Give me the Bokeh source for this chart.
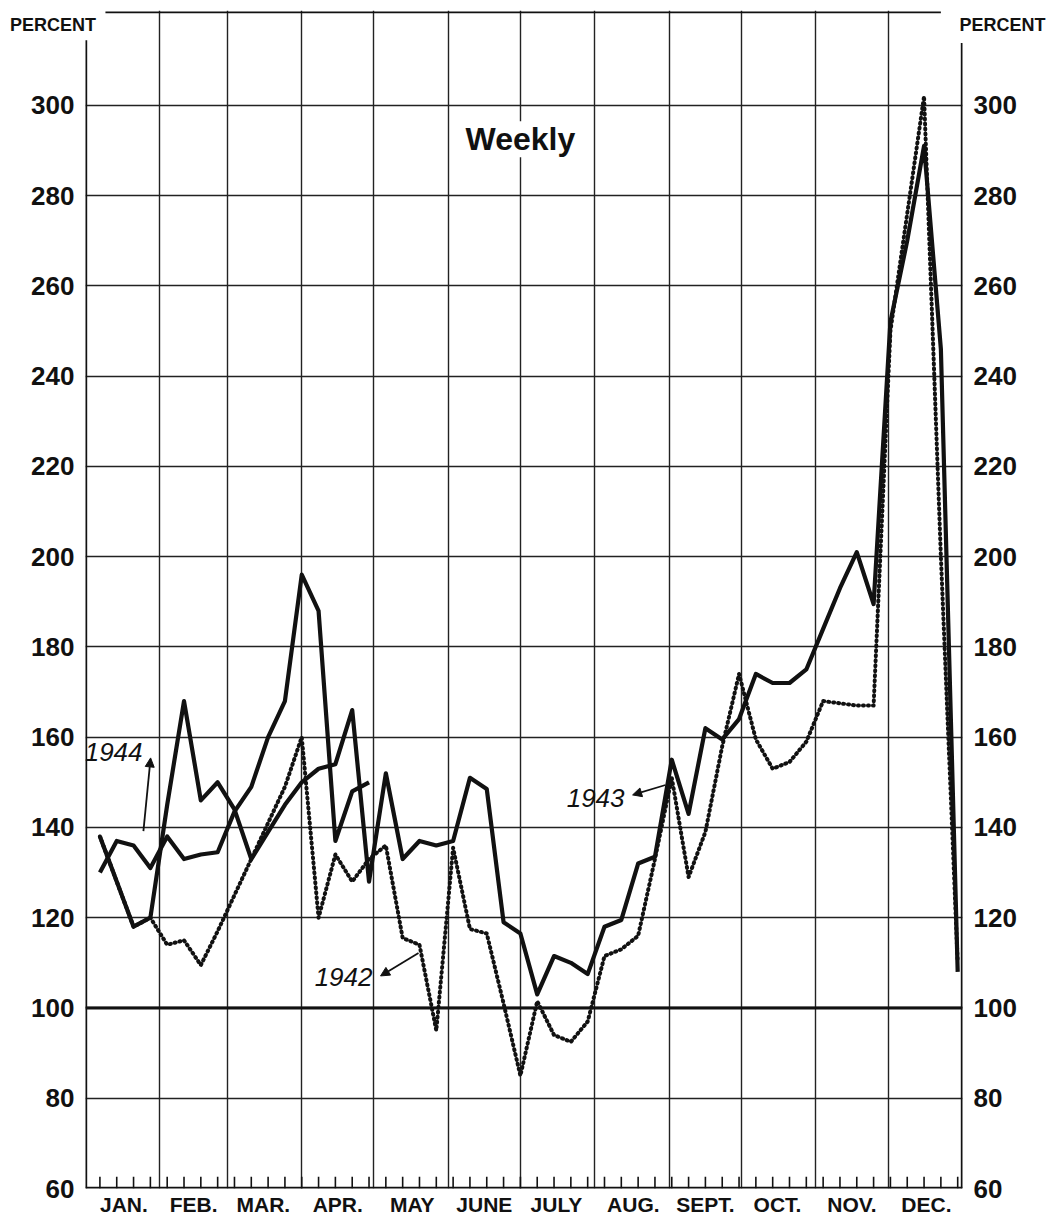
from bokeh.plotting import figure
from bokeh.models import (Range1d, FixedTicker, LinearAxis, Label, Span, Arrow,
                          NormalHead)
from bokeh.embed import file_html
from bokeh.resources import INLINE

# ---- data -------------------------------------------------------------
months = ["JAN.", "FEB.", "MAR.", "APR.", "MAY", "JUNE", "JULY", "AUG.",
          "SEPT.", "OCT.", "NOV.", "DEC."]
month_days = [31, 28, 31, 30, 31, 30, 31, 31, 30, 31, 30, 31]
weeks = list(range(1, 53))

y1942 = [138, 128, 118, 120, 114, 115, 109.5, 117, 125, 133,
         141, 149, 160, 120, 134, 128, 133, 136, 115.5, 114,
         95, 135.5, 117.5, 116.5, 101, 85, 101.5, 94, 92.5, 97,
         111.5, 113, 116, 133, 151, 129, 139, 158, 174, 159.5,
         153, 154.5, 159, 168, 167.5, 167, 167, 250, 276, 302,
         200, 110]
y1943 = [138, 128, 118, 120, 145, 168, 146, 150, 144, 133,
         139, 145, 150, 153, 154, 166, 128, 152, 133, 137,
         136, 137, 151, 148.5, 119, 116.5, 103, 111.5, 110, 107.5,
         118, 119.5, 132, 133.5, 155, 143, 162, 159.5, 164, 174,
         172, 172, 175, 184, 193, 201, 189.5, 252, 270, 291,
         246, 108]
y1944 = [130, 137, 136, 131, 138, 133, 134, 134.5, 143.5, 149,
         160, 168, 196, 188, 137, 148, 150]

y_ticks = list(range(60, 301, 20))
unit_label = "PERCENT"

# ---- derived positions ------------------------------------------------
bounds = [0]
for d in month_days:
    bounds.append(bounds[-1] + d)
centers = [round((bounds[i] + bounds[i + 1]) / 2) for i in range(12)]
wx = [7 * w - 1 for w in weeks]

FONT = "Liberation Sans"
INK = "#111111"
NBSP = "\u00a0"

p = figure(frame_width=877, frame_height=1178,
           x_range=Range1d(0, 365), y_range=Range1d(60, 321),
           output_backend="svg", toolbar_location=None,
           min_border_left=85, min_border_right=86,
           min_border_top=10, min_border_bottom=30,
           background_fill_color="white", border_fill_color="white")
p.outline_line_color = None

# grids
p.xgrid.ticker = FixedTicker(ticks=bounds[1:-1])
p.ygrid.ticker = FixedTicker(ticks=y_ticks)
for g in (p.xgrid, p.ygrid):
    g.grid_line_color = "#222222"
    g.grid_line_width = 1.4
    g.grid_line_alpha = 1.0

# frame edges (left/right/top edges leave room for the PERCENT captions)
p.segment(x0=[0, 365, 0, 8.3], y0=[60, 60, 60, 320.6],
          x1=[0, 365, 365, 356], y1=[314.4, 313.8, 60, 320.6],
          line_color=INK, line_width=[3.4, 3.4, 3.4, 1.8])

# axes
xa = p.xaxis[0]
xa.ticker = FixedTicker(ticks=centers)
xa.major_label_overrides = {c: m for c, m in zip(centers, months)}
ya = p.yaxis[0]
ya.ticker = FixedTicker(ticks=y_ticks)
ra = LinearAxis(ticker=FixedTicker(ticks=y_ticks))
p.add_layout(ra, "right")

# caption axis above: "PERCENT" over both value scales
p.extra_x_ranges = {"cap": Range1d(0, 1)}
ca = LinearAxis(x_range_name="cap", ticker=FixedTicker(ticks=[0.0001, 0.9999]))
ca.major_label_overrides = {0.0001: unit_label + NBSP * 13,
                            0.9999: NBSP * 16 + unit_label}
p.add_layout(ca, "above")

for ax in (xa, ya, ra, ca):
    ax.axis_line_color = None
    ax.major_tick_line_color = None
    ax.minor_tick_line_color = None
    ax.major_label_text_font = FONT
    ax.major_label_text_font_style = "bold"
    ax.major_label_text_color = INK
xa.major_label_text_font_size = "21px"
xa.major_label_standoff = -2
ya.major_label_text_font_size = "26px"
ra.major_label_text_font_size = "26px"
ya.major_label_standoff = 5
ra.major_label_standoff = 5
ca.major_label_text_font_size = "18px"
ca.major_label_standoff = -30

# baseline 100
p.add_layout(Span(location=100, dimension="width", line_color=INK, line_width=3))

# weekly tick marks on the bottom
p.segment(x0=wx, y0=[60] * len(wx), x1=wx, y1=[62.6] * len(wx),
          line_color=INK, line_width=1.6)

# series
p.line(wx, y1942, line_color=INK, line_width=4, line_dash="1 4",
       line_cap="round", line_join="round")
p.line(wx, y1943, line_color=INK, line_width=4.2, line_join="round")
p.line(wx[:len(y1944)], y1944, line_color=INK, line_width=4.2, line_join="round")

# title
p.add_layout(Label(x=181, y=292.5, text="Weekly", text_font=FONT,
                   text_font_style="bold", text_font_size="32px",
                   text_color=INK, text_align="center", text_baseline="middle",
                   background_fill_color="white", background_fill_alpha=1.0))

# year labels
for txt, lx, ly in (("1944", 11.7, 156.7), ("1942", 107.4, 106.9), ("1943", 212.3, 146.5)):
    p.add_layout(Label(x=lx, y=ly, text=txt, text_font=FONT, text_font_style="italic",
                       text_font_size="26px", text_color=INK,
                       text_align="center", text_baseline="middle"))

# leader arrows
for (x0, y0, x1, y1) in ((27.1, 155.4, 24.1, 139.2),
                         (122.8, 107.1, 138.6, 112.2),
                         (227.7, 147.2, 241.4, 149.4)):
    p.add_layout(Arrow(x_start=x0, y_start=y0, x_end=x1, y_end=y1,
                       start=NormalHead(size=9, fill_color=INK, line_color=INK),
                       end=None, line_color=INK, line_width=1.8))

open("out.html", "w").write(file_html(p, INLINE))
